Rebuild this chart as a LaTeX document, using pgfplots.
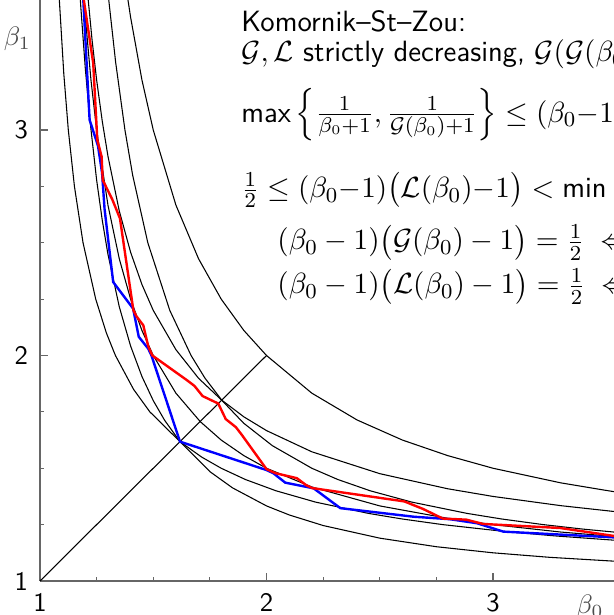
\documentclass[border=0pt]{standalone}
\usepackage{amsmath}
\usepackage{pgfplots}
\pgfplotsset{compat=1.18}
\begin{document}
\begin{tikzpicture}
\begin{axis}[
    x=84.94pt, y=84.56pt,
    xmin=1, xmax=3.534, ymin=1, ymax=3.5765,
    axis lines*=left,
    axis line style={black!60, line width=0.55pt},
    clip=false,
    xtick={1,2,3}, ytick={1,2,3},
    minor x tick num=3, minor y tick num=3,
    tick align=inside,
    major tick length=3pt, minor tick length=1.6pt,
    tick style={black!60, line width=0.45pt},
    tick label style={font=\sffamily},
    /pgf/number format/assume math mode=true,
    xticklabel style={yshift=-1pt},
    yticklabel style={xshift=-1pt},
]

% (b0-1)(b1-1) = 1/(b0+1)
\addplot[black, line width=0.4pt] coordinates {
    (1.17,3.711) (1.18,3.548) (1.2,3.273) (1.22,3.048) (1.25,2.778) (1.275,2.599)
    (1.3,2.449) (1.35,2.216) (1.4,2.042) (1.45,1.907) (1.5,1.8) (1.55,1.713)
    (1.618,1.618) (1.75,1.485) (1.85,1.413) (2.0,1.333) (2.1,1.293) (2.25,1.246)
    (2.5,1.190) (2.75,1.152) (3.0,1.125) (3.25,1.105) (3.6,1.084)
};
% mirror
\addplot[black, line width=0.4pt] coordinates {
    (3.711,1.17) (3.548,1.18) (3.273,1.2) (3.048,1.22) (2.778,1.25) (2.599,1.275)
    (2.449,1.3) (2.216,1.35) (2.042,1.4) (1.907,1.45) (1.8,1.5) (1.713,1.55)
    (1.618,1.618) (1.485,1.75) (1.413,1.85) (1.333,2.0) (1.293,2.1) (1.246,2.25)
    (1.190,2.5) (1.152,2.75) (1.125,3.0) (1.105,3.25) (1.084,3.6)
};
% product = 1/2
\addplot[black, line width=0.4pt] coordinates {
    (1.19,3.632) (1.2,3.5) (1.225,3.222) (1.25,3.0) (1.3,2.667) (1.35,2.429)
    (1.4,2.25) (1.45,2.111) (1.5,2.0) (1.6,1.833) (1.7071,1.7071) (1.8,1.625)
    (1.9,1.556) (2.0,1.5) (2.2,1.417) (2.5,1.333) (2.8,1.278) (3.0,1.25)
    (3.3,1.217) (3.6,1.192)
};
% product = 1
\addplot[black, line width=0.4pt] coordinates {
    (1.38,3.632) (1.4,3.5) (1.45,3.222) (1.5,3.0) (1.6,2.667) (1.7,2.429)
    (1.8,2.25) (1.9,2.111) (2.0,2.0) (2.2,1.833) (2.4,1.714) (2.6,1.625)
    (2.8,1.556) (3.0,1.5) (3.3,1.435) (3.6,1.385)
};
% product = b0/(b0+1)
\addplot[black, line width=0.4pt] coordinates {
    (1.2,3.727) (1.21,3.607) (1.23,3.398) (1.25,3.222) (1.275,3.038) (1.3,2.884)
    (1.35,2.641) (1.4,2.458) (1.45,2.315) (1.5,2.2) (1.6,2.026) (1.7,1.899)
    (1.8,1.804) (1.9,1.728) (2.0,1.667) (2.2,1.573) (2.5,1.476) (2.8,1.409)
    (3.0,1.375) (3.3,1.334) (3.6,1.301)
};
% mirror
\addplot[black, line width=0.4pt] coordinates {
    (3.727,1.2) (3.607,1.21) (3.398,1.23) (3.222,1.25) (3.038,1.275) (2.884,1.3)
    (2.641,1.35) (2.458,1.4) (2.315,1.45) (2.2,1.5) (2.026,1.6) (1.899,1.7)
    (1.804,1.8) (1.728,1.9) (1.667,2.0) (1.573,2.2) (1.476,2.5) (1.409,2.8)
    (1.375,3.0) (1.334,3.3) (1.301,3.6)
};
% diagonal
\addplot[black, line width=0.4pt] coordinates {(1,1) (2,2)};

% G
\addplot[blue, line width=0.9pt] coordinates {
    (1.19,3.60) (1.219,3.045) (1.256,2.93) (1.274,2.81) (1.285,2.65) (1.323,2.326)
    (1.411,2.208) (1.436,2.083) (1.478,2.03) (1.492,2.0) (1.618,1.618)
    (2.0,1.492) (2.03,1.478) (2.083,1.436) (2.208,1.411) (2.326,1.323)
    (2.65,1.285) (2.81,1.274) (2.93,1.256) (3.045,1.219) (3.60,1.19)
};
% L
\addplot[red, line width=0.9pt] coordinates {
    (1.19,3.60) (1.235,3.296) (1.253,2.956) (1.272,2.882) (1.277,2.778) (1.32,2.69)
    (1.353,2.608) (1.412,2.202) (1.425,2.175) (1.456,2.134) (1.478,2.04) (1.496,2.0)
    (1.648,1.891) (1.682,1.865) (1.718,1.82) (1.787,1.787) (1.82,1.718) (1.865,1.682)
    (1.891,1.648) (2.0,1.496) (2.04,1.478) (2.134,1.456) (2.175,1.425) (2.202,1.412)
    (2.608,1.353) (2.69,1.32) (2.778,1.277) (2.882,1.272) (2.956,1.253)
    (3.296,1.235) (3.60,1.19)
};

\node[text=black!70] at (axis cs:0.90,3.405) {$\beta_1$};
\node[text=black!70] at (axis cs:3.428,0.885) {$\beta_0$};

\begin{scope}[every node/.style={anchor=base west, inner sep=0pt, font=\fontsize{11}{13}\selectfont\sffamily}]
\node at (axis cs:1.887,3.439) {Komornik--St--Zou:};
\node at (axis cs:1.887,3.302) {$\mathcal{G},\mathcal{L}$ strictly decreasing, $\mathcal{G}(\mathcal{G}(\beta_0))=\beta_0$, $\mathcal{L}(\mathcal{L}(\beta_0))=\beta_0$};
\node at (axis cs:1.887,3.035) {max\,$\left\{\frac{1}{\beta_0+1},\frac{1}{\mathcal{G}(\beta_0)+1}\right\}\le(\beta_0{-}1)\bigl(\mathcal{G}(\beta_0){-}1\bigr)\le\frac{1}{2}$};
\node at (axis cs:1.887,2.70) {$\frac{1}{2}\le(\beta_0{-}1)\bigl(\mathcal{L}(\beta_0){-}1\bigr)<{}$min\,$\left\{\frac{\beta_0}{\beta_0+1},\frac{\mathcal{L}(\beta_0)}{\mathcal{L}(\beta_0)+1}\right\}$};
\node at (axis cs:2.046,2.468) {$(\beta_0-1)\bigl(\mathcal{G}(\beta_0)-1\bigr)=\frac{1}{2}\iff\beta_0=\mathcal{G}(\beta_0)$};
\node at (axis cs:2.046,2.273) {$(\beta_0-1)\bigl(\mathcal{L}(\beta_0)-1\bigr)=\frac{1}{2}\iff\beta_0=\mathcal{L}(\beta_0)$};
\end{scope}

\coordinate (bl) at (axis cs:0.8234,0.8492);
\coordinate (tr) at (axis cs:3.534,3.5765);
\end{axis}
\pgfresetboundingbox
\useasboundingbox (bl) rectangle (tr);
\end{tikzpicture}
\end{document}
